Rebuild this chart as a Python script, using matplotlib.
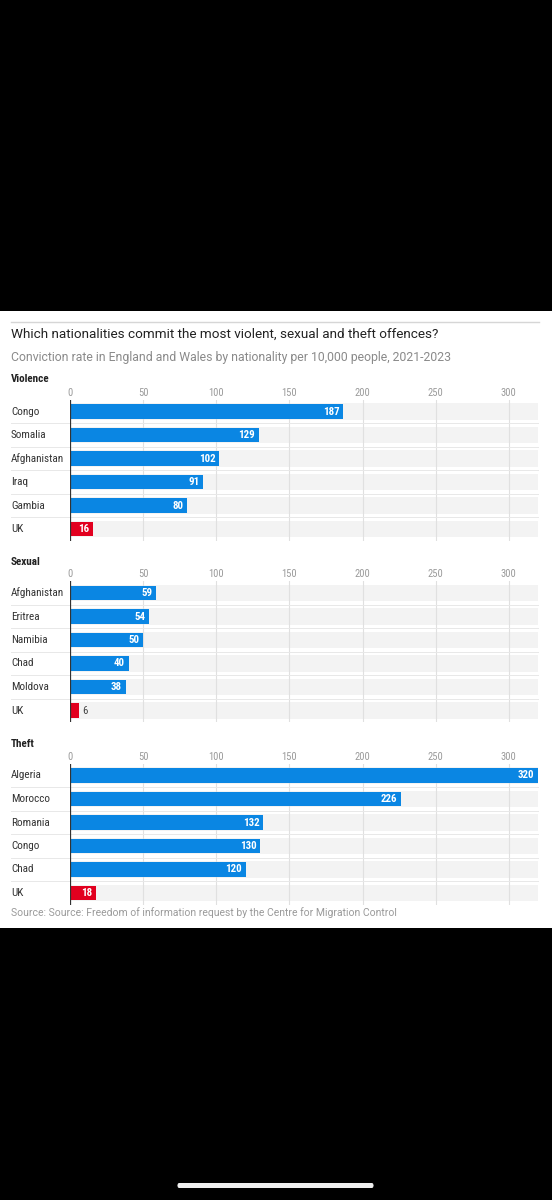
import matplotlib.pyplot as plt
from matplotlib import font_manager
from matplotlib.patches import Rectangle, FancyBboxPatch

W, H = 552, 1200

violence_names = ["Congo", "Somalia", "Afghanistan", "Iraq", "Gambia", "UK"]
violence_values = [187, 129, 102, 91, 80, 16]

sexual_names = ["Afghanistan", "Eritrea", "Namibia", "Chad", "Moldova", "UK"]
sexual_values = [59, 54, 50, 40, 38, 6]

theft_names = ["Algeria", "Morocco", "Romania", "Congo", "Chad", "UK"]
theft_values = [320, 226, 132, 130, 120, 18]

ticks = [0, 50, 100, 150, 200, 250, 300]

title = "Which nationalities commit the most violent, sexual and theft offences?"
subtitle = "Conviction rate in England and Wales by nationality per 10,000 people, 2021-2023"
source = "Source: Source: Freedom of information request by the Centre for Migration Control"

BLUE = "#0a86e3"
RED = "#e2001f"
TRACK = "#f3f3f3"
SANS = ["Roboto", "DejaVu Sans"]

# narrow font for labels, whichever is installed
installed = {f.name for f in font_manager.fontManager.ttflist}
COND = ["DejaVu Sans"]
STRETCH = "condensed"
for cand in ["Liberation Sans Narrow", "Roboto Condensed", "Open Sans Condensed"]:
    if cand in installed:
        COND = [cand, "DejaVu Sans"]
        break


def fx(x):
    return x / W


def fy(y):
    return 1 - y / H


fig = plt.figure(figsize=(W / 100, H / 100), dpi=100, facecolor="black")

# white card of the screenshot
fig.patches.append(Rectangle((0, fy(928)), 1, (928 - 311) / H, transform=fig.transFigure,
                             facecolor="white", edgecolor="none", zorder=-5))
# home indicator
fig.patches.append(FancyBboxPatch((fx(177), fy(1188)), (374 - 177) / W, 5 / H,
                                  boxstyle="round,pad=0,rounding_size=0.004",
                                  transform=fig.transFigure, facecolor="#efefef",
                                  edgecolor="none", zorder=-5))

# header
fig.lines.append(plt.Line2D([fx(11), fx(539)], [fy(322), fy(322)], transform=fig.transFigure,
                            color="#d6d6d6", lw=1))
fig.text(fx(11), fy(334), title, family=SANS, fontsize=9.7, color="#222222", va="center")
fig.text(fx(11), fy(358), subtitle, family=SANS, fontsize=8.8, color="#8a8a8a", va="center")
fig.text(fx(11), fy(913), source, family=SANS, fontsize=7.45, color="#9a9a9a", va="center")

ROW = 23.5


def panel(name, names, values, first_row, title_y):
    top = first_row - ROW / 2
    h = ROW * len(names)
    ax = fig.add_axes([fx(70), fy(top + h), 468 / W, h / H])
    ax.set_xlim(0, 320)
    ax.set_ylim(len(names) - 0.5, -0.5)
    ax.set_facecolor("none")
    for s in ax.spines.values():
        s.set_visible(False)

    pos = list(range(len(names)))
    ax.barh(pos, [320] * len(names), height=0.7, color=TRACK, zorder=0)
    for t in ticks[1:]:
        ax.axvline(t, color="#e0e0e0", lw=0.8, zorder=1)
    colors = [RED if n == "UK" else BLUE for n in names]
    ax.barh(pos, values, height=0.62, color=colors, zorder=2)
    ax.axvline(0, color="#333333", lw=0.9, zorder=3)

    for k in pos[:-1]:
        ax.axhline(k + 0.5, xmin=-0.126, xmax=1, color="#e8e8e8", lw=0.7, clip_on=False, zorder=1)

    for k, (n, v) in enumerate(zip(names, values)):
        ax.text(-0.126, k, n, transform=ax.get_yaxis_transform(), family=COND, stretch=STRETCH,
                fontsize=8, color="#333333", va="center", ha="left")
        if v >= 10:
            ax.text(v - 2.5, k, str(v), family=COND, stretch=STRETCH, fontsize=7.8,
                    fontweight="bold", color="white", va="center", ha="right", zorder=4)
        else:
            ax.text(v + 2.5, k, str(v), family=COND, stretch=STRETCH, fontsize=7.8,
                    color="#444444", va="center", ha="left", zorder=4)

    ax.xaxis.tick_top()
    ax.set_xticks(ticks)
    ax.set_xticklabels([str(t) for t in ticks], family=COND, stretch=STRETCH,
                       fontsize=7.6, color="#9a9a9a")
    ax.tick_params(axis="x", length=0, pad=1.5)
    ax.set_yticks([])

    fig.text(fx(11), fy(title_y), name, family=COND, stretch=STRETCH, fontsize=8,
             fontweight="bold", color="#222222", va="center")


panel("Violence", violence_names, violence_values, 411.5, 379)
panel("Sexual", sexual_names, sexual_values, 593, 562)
panel("Theft", theft_names, theft_values, 775.5, 744)

fig.savefig("out.png", dpi=100, facecolor="black")
